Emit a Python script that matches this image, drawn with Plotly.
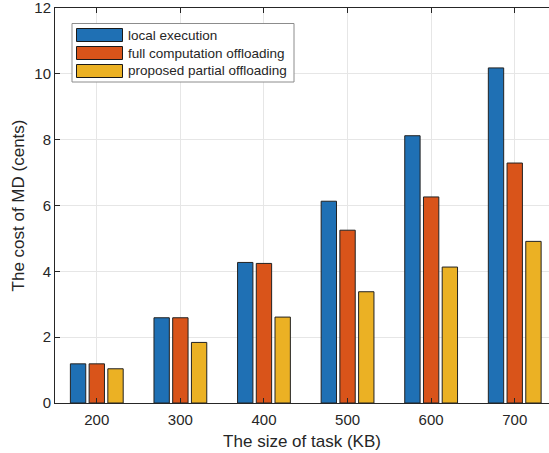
import plotly.graph_objects as go

# ---- data ----
task_sizes = ["200", "300", "400", "500", "600", "700"]
local_execution = [1.19, 2.59, 4.27, 6.13, 8.12, 10.18]
full_offloading = [1.19, 2.59, 4.24, 5.25, 6.26, 7.29]
partial_offloading = [1.04, 1.84, 2.61, 3.38, 4.13, 4.91]
series_names = ["local execution", "full computation offloading", "proposed partial offloading"]
series_colors = ["#1f70b4", "#d9541a", "#ebb124"]
y_ticks = [0, 2, 4, 6, 8, 10, 12]

W, H = 549, 453
L, R, T, B = 55, 0, 8, 50
FONT = "Liberation Sans, Arial, Helvetica, sans-serif"
TXT = "#262626"

xpos = list(range(1, len(task_sizes) + 1))
fig = go.Figure()
for name, vals, col in zip(series_names, [local_execution, full_offloading, partial_offloading], series_colors):
    fig.add_trace(go.Bar(
        x=xpos, y=vals, name=name, showlegend=False,
        marker=dict(color=col, line=dict(color="#222222", width=1)),
    ))

# custom MATLAB-like legend (paper coordinates from pixel positions)
pw, ph = W - L - R, H - T - B
def px(x):
    return (x - L) / pw
def py(y):
    return (H - B - y) / ph

shapes = [dict(type="rect", xref="paper", yref="paper",
               x0=px(72), x1=px(294), y0=py(82), y1=py(23.5),
               line=dict(color="#8c8c8c", width=1), fillcolor="white", layer="above")]
annotations = []
row_centers = [35, 53, 71]
for name, col, yc in zip(series_names, series_colors, row_centers):
    shapes.append(dict(type="rect", xref="paper", yref="paper",
                       x0=px(76.5), x1=px(122.5), y0=py(yc + 6.5), y1=py(yc - 6.5),
                       line=dict(color="#1a1a1a", width=1), fillcolor=col, layer="above"))
    annotations.append(dict(xref="paper", yref="paper", x=px(125.5), y=py(yc),
                            text=name, showarrow=False, xanchor="left", yanchor="middle",
                            font=dict(family=FONT, size=13.5, color=TXT)))

fig.update_layout(
    width=W, height=H,
    margin=dict(l=L, r=R, t=T, b=B, pad=0),
    paper_bgcolor="white", plot_bgcolor="white",
    barmode="group", bargap=0.328, bargroupgap=0.18,
    font=dict(family=FONT, color=TXT, size=15),
    shapes=shapes, annotations=annotations,
    showlegend=False,
    xaxis=dict(
        range=[0.5, 6.41], tickmode="array", tickvals=xpos, ticktext=task_sizes,
        showgrid=True, gridcolor="#e6e6e6", gridwidth=1,
        showline=True, linecolor=TXT, linewidth=1, mirror="ticks",
        ticks="inside", ticklen=5, tickcolor=TXT, tickwidth=1,
        tickfont=dict(size=15, color=TXT), ticklabelstandoff=3,
        title=dict(text="The size of task (KB)", font=dict(size=17, color=TXT), standoff=8),
        zeroline=False,
    ),
    yaxis=dict(
        range=[0, 12], tickmode="array", tickvals=y_ticks,
        showgrid=True, gridcolor="#e6e6e6", gridwidth=1,
        showline=True, linecolor=TXT, linewidth=1, mirror=False,
        ticks="inside", ticklen=5, tickcolor=TXT, tickwidth=1,
        tickfont=dict(size=15, color=TXT), ticklabeloverflow="allow",
        title=dict(text="The cost of MD (cents)", font=dict(size=17, color=TXT), standoff=5),
        zeroline=False,
    ),
)
fig.write_html("out.html")
